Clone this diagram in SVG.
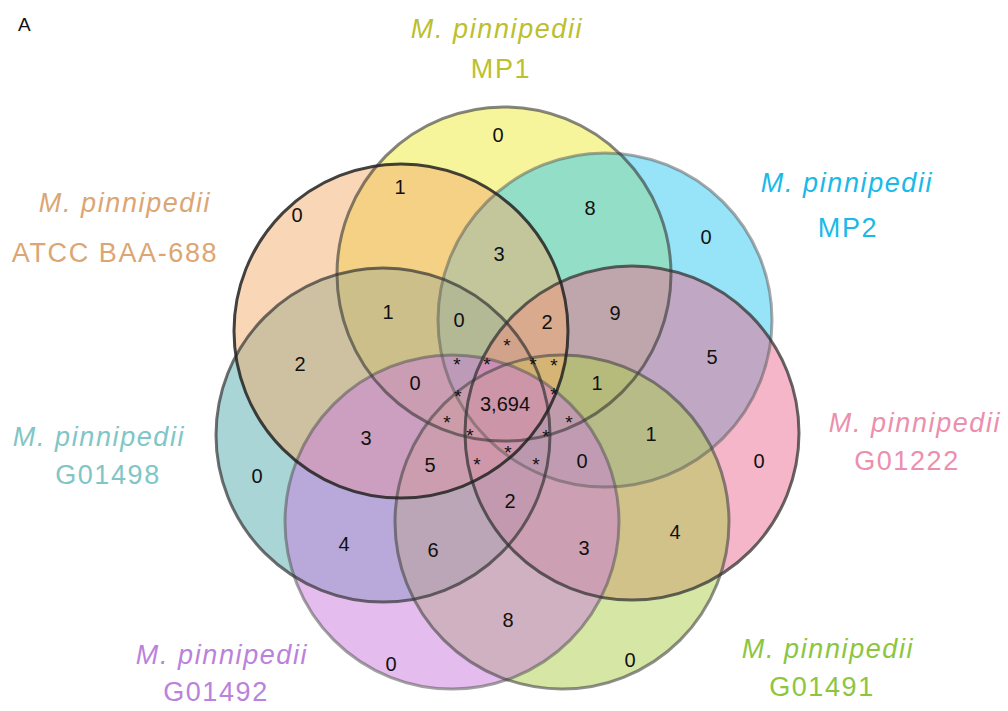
<svg xmlns="http://www.w3.org/2000/svg" width="1008" height="711" viewBox="0 0 1008 711">
<style>
.set{fill-opacity:0.5;stroke:none}
.edge{fill:none;stroke-width:3}
.lab{font-family:"Liberation Sans",Arial,sans-serif;font-size:27px;text-anchor:middle;letter-spacing:1.6px}
.it{font-style:italic}
.num{font-family:"Liberation Sans",Arial,sans-serif;font-size:20px;text-anchor:middle;fill:#111}
.ast{font-family:"Liberation Sans",Arial,sans-serif;font-size:19px;text-anchor:middle;fill:#111}
</style>
<rect width="1008" height="711" fill="#ffffff"/>
<text x="18" y="31" font-family="Liberation Sans, Arial, sans-serif" font-size="19" fill="#111">A</text>

<g id="set-MP1">
<circle class="set" cx="504" cy="274" r="167" fill="#efeb39"/>
<text class="lab it" x="497" y="38" fill="#bcbf2e">M. pinnipedii</text>
<text class="lab" x="501" y="78" fill="#bcbf2e">MP1</text>
</g>
<g id="set-MP2">
<circle class="set" cx="605" cy="320" r="167" fill="#2fc7ef"/>
<text class="lab it" x="847" y="192" fill="#19b9e8">M. pinnipedii</text>
<text class="lab" x="848" y="237" fill="#19b9e8">MP2</text>
</g>
<g id="set-G01498">
<circle class="set" cx="383" cy="435" r="167" fill="#53abad"/>
<text class="lab it" x="99" y="446" fill="#80c6c6">M. pinnipedii</text>
<text class="lab" x="108" y="484" fill="#80c6c6">G01498</text>
</g>
<g id="set-G01222">
<circle class="set" cx="632" cy="433" r="167" fill="#e96d91"/>
<text class="lab it" x="915" y="432" fill="#ec8fae">M. pinnipedii</text>
<text class="lab" x="907" y="470" fill="#ec8fae">G01222</text>
</g>
<g id="set-G01491">
<circle class="set" cx="562" cy="522" r="167" fill="#adcd49"/>
<text class="lab it" x="828" y="658" fill="#8cc63e">M. pinnipedii</text>
<text class="lab" x="822" y="696" fill="#8cc63e">G01491</text>
</g>
<g id="set-ATCC">
<circle class="set" cx="401" cy="331" r="167" fill="#f3ad6d"/>
<text class="lab it" x="125" y="212" fill="#dba673">M. pinnipedii</text>
<text class="lab" x="115" y="262" fill="#dba673">ATCC BAA-688</text>
</g>
<g id="set-G01492">
<circle class="set" cx="452" cy="522" r="167" fill="#c97bdd"/>
<text class="lab it" x="222" y="664" fill="#bb82dc">M. pinnipedii</text>
<text class="lab" x="216" y="701" fill="#bb82dc">G01492</text>
</g>

<g id="outlines">
<circle class="edge" cx="605" cy="320" r="167" stroke="#555" stroke-opacity="0.5"/>
<circle class="edge" cx="452" cy="522" r="167" stroke="#555" stroke-opacity="0.55"/>
<circle class="edge" cx="504" cy="274" r="167" stroke="#333" stroke-opacity="0.6"/>
<circle class="edge" cx="562" cy="522" r="167" stroke="#444" stroke-opacity="0.6"/>
<circle class="edge" cx="383" cy="435" r="167" stroke="#333" stroke-opacity="0.7"/>
<circle class="edge" cx="632" cy="433" r="167" stroke="#333" stroke-opacity="0.75"/>
<circle class="edge" cx="401" cy="331" r="167" stroke="#222" stroke-opacity="0.85"/>
</g>

<g id="counts">
<text class="num" x="498" y="142">0</text>
<text class="num" x="400" y="194">1</text>
<text class="num" x="590" y="215">8</text>
<text class="num" x="297" y="222">0</text>
<text class="num" x="499" y="261">3</text>
<text class="num" x="706" y="244">0</text>
<text class="num" x="388" y="319">1</text>
<text class="num" x="459" y="327">0</text>
<text class="num" x="547" y="329">2</text>
<text class="num" x="615" y="320">9</text>
<text class="num" x="712" y="364">5</text>
<text class="num" x="300" y="371">2</text>
<text class="num" x="415" y="390">0</text>
<text class="num" x="597" y="390">1</text>
<text class="num" x="505" y="411">3,694</text>
<text class="num" x="366" y="445">3</text>
<text class="num" x="651" y="441">1</text>
<text class="num" x="759" y="468">0</text>
<text class="num" x="257" y="483">0</text>
<text class="num" x="430" y="472">5</text>
<text class="num" x="582" y="468">0</text>
<text class="num" x="510" y="508">2</text>
<text class="num" x="344" y="551">4</text>
<text class="num" x="433" y="557">6</text>
<text class="num" x="584" y="555">3</text>
<text class="num" x="675" y="539">4</text>
<text class="num" x="508" y="627">8</text>
<text class="num" x="391" y="671">0</text>
<text class="num" x="630" y="667">0</text>
</g>
<g id="asterisks">
<text class="ast" x="507" y="352">*</text>
<text class="ast" x="457" y="371">*</text>
<text class="ast" x="487" y="371">*</text>
<text class="ast" x="533" y="371">*</text>
<text class="ast" x="554" y="372">*</text>
<text class="ast" x="458" y="403">*</text>
<text class="ast" x="554" y="401">*</text>
<text class="ast" x="447" y="429">*</text>
<text class="ast" x="470" y="442">*</text>
<text class="ast" x="569" y="429">*</text>
<text class="ast" x="546" y="443">*</text>
<text class="ast" x="508" y="459">*</text>
<text class="ast" x="477" y="471">*</text>
<text class="ast" x="536" y="471">*</text>
</g>
</svg>
